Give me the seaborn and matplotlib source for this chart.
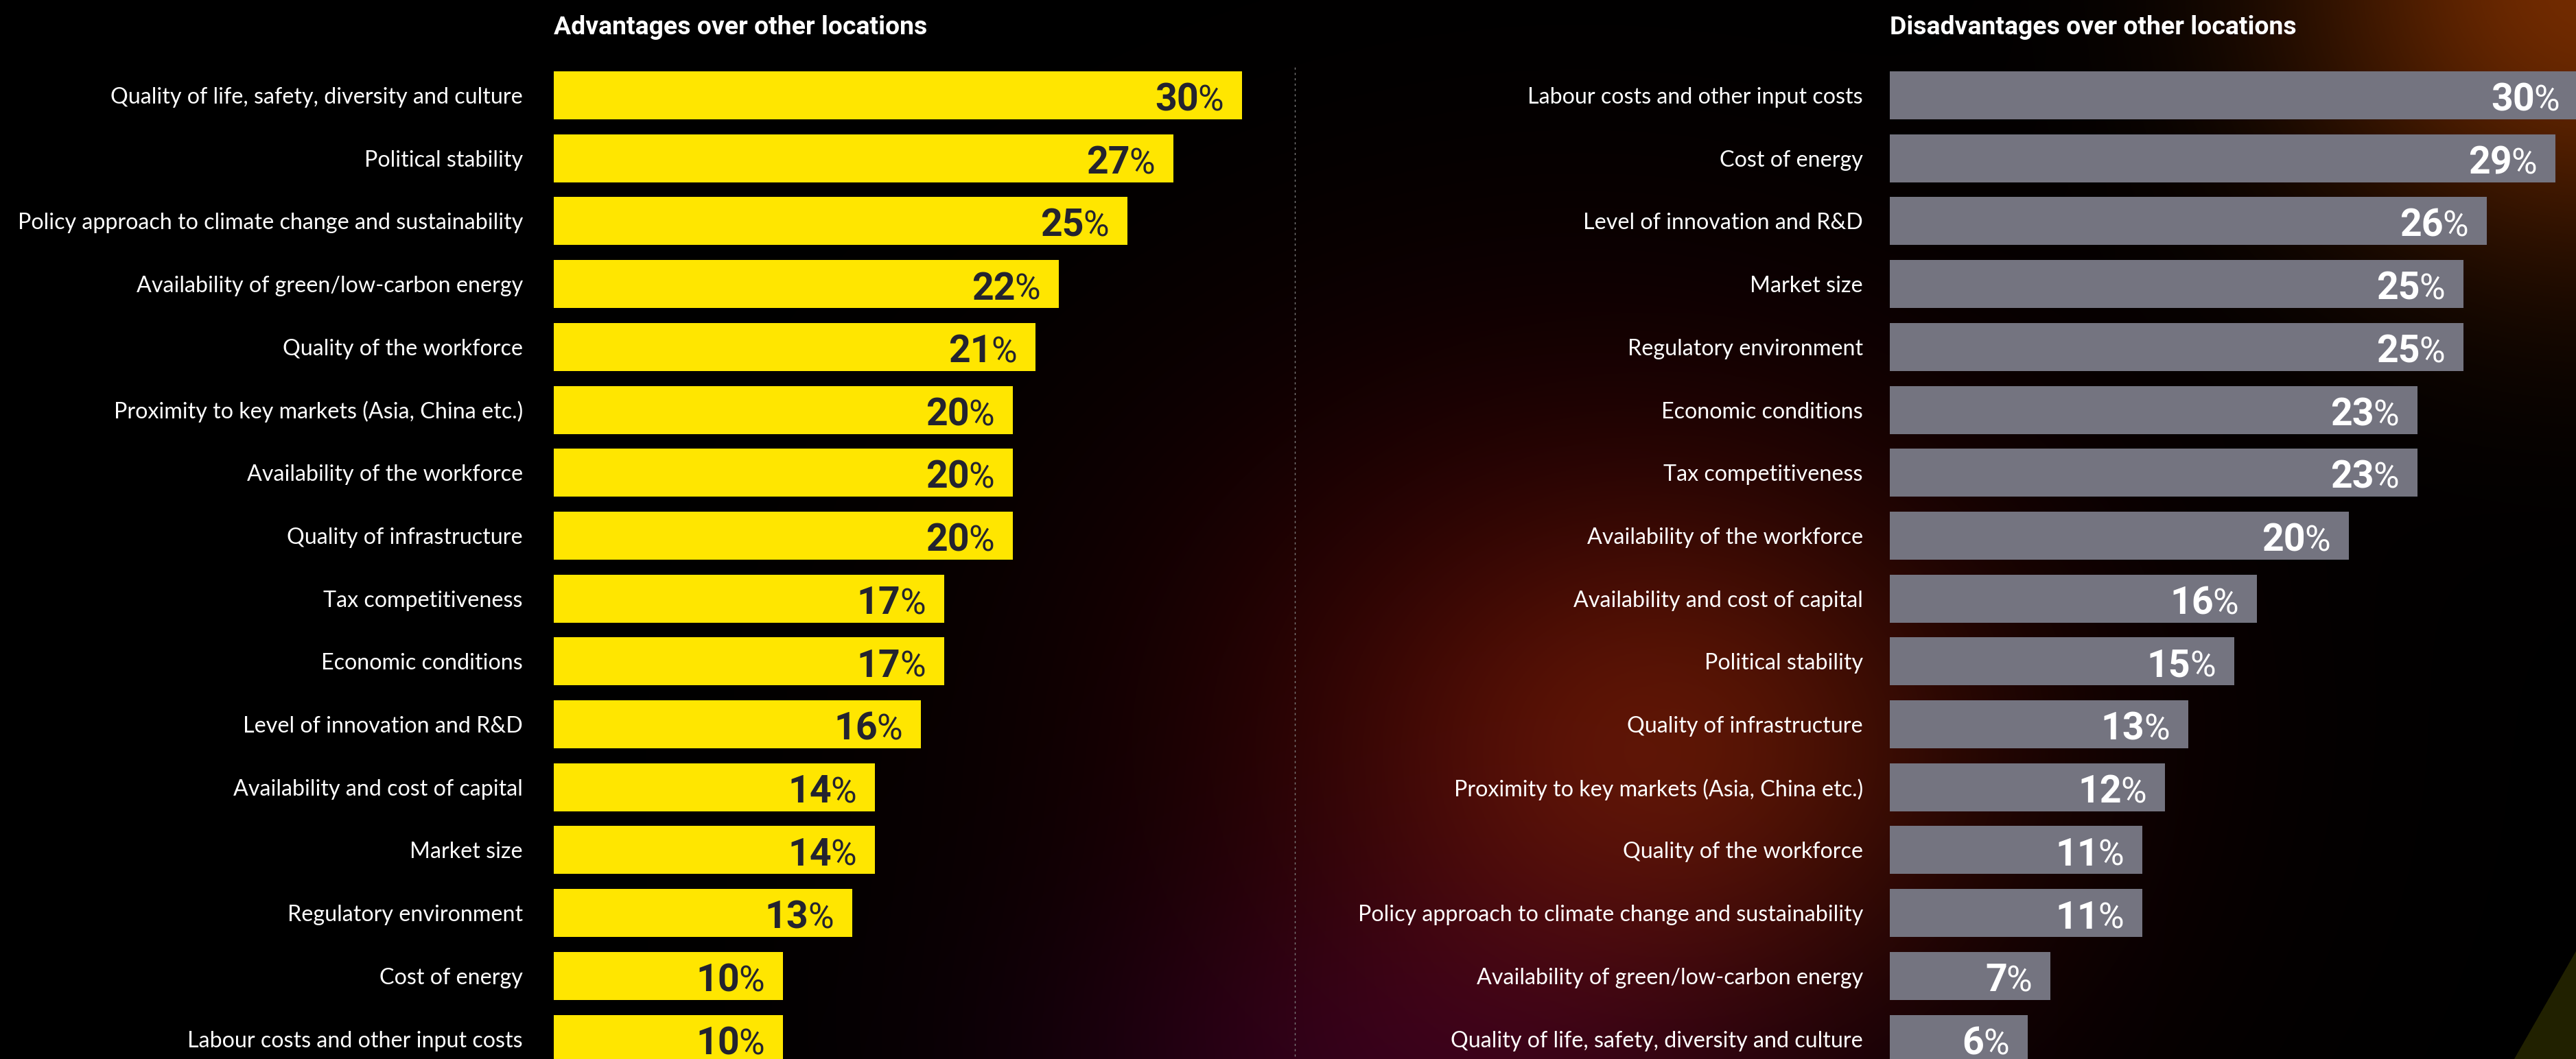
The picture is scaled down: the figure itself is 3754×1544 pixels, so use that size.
import numpy as np
import pandas as pd
import seaborn as sns
import matplotlib
matplotlib.use("Agg")
import matplotlib.pyplot as plt
from matplotlib.patches import Polygon

# ---------------- data ----------------
adv_labels = [
    "Quality of life, safety, diversity and culture",
    "Political stability",
    "Policy approach to climate change and sustainability",
    "Availability of green/low-carbon energy",
    "Quality of the workforce",
    "Proximity to key markets (Asia, China etc.)",
    "Availability of the workforce",
    "Quality of infrastructure",
    "Tax competitiveness",
    "Economic conditions",
    "Level of innovation and R&D",
    "Availability and cost of capital",
    "Market size",
    "Regulatory environment",
    "Cost of energy",
    "Labour costs and other input costs",
]
adv_values = [30, 27, 25, 22, 21, 20, 20, 20, 17, 17, 16, 14, 14, 13, 10, 10]

dis_labels = [
    "Labour costs and other input costs",
    "Cost of energy",
    "Level of innovation and R&D",
    "Market size",
    "Regulatory environment",
    "Economic conditions",
    "Tax competitiveness",
    "Availability of the workforce",
    "Availability and cost of capital",
    "Political stability",
    "Quality of infrastructure",
    "Proximity to key markets (Asia, China etc.)",
    "Quality of the workforce",
    "Policy approach to climate change and sustainability",
    "Availability of green/low-carbon energy",
    "Quality of life, safety, diversity and culture",
]
dis_values = [30, 29, 26, 25, 25, 23, 23, 20, 16, 15, 13, 12, 11, 11, 7, 6]

adv_title = "Advantages over other locations"
dis_title = "Disadvantages over other locations"

YELLOW = "#FFE600"
GREY = "#747480"
DARK = "#23232F"

# ---------------- layout ----------------
W, H, DPI = 3755, 1544, 100
K = 33.45          # px per percentage point
ROW = 91.7         # px per row
FIRST_C = 139.0    # px centre of first bar (from top)
BAR_H = 70.0

sns.set_theme(style="white")
plt.rcParams["font.family"] = ["Lato", "DejaVu Sans"]

fig = plt.figure(figsize=(W / DPI, H / DPI), dpi=DPI, facecolor="black")

# ---------------- background ----------------
bg = fig.add_axes([0, 0, 1, 1], zorder=-5)
ds = 4
yy, xx = np.mgrid[0:H:ds, 0:W:ds].astype(float)
img = np.zeros(yy.shape + (3,))


def blob(cx, cy, sx, sy, col):
    g = np.exp(-0.5 * (((xx - cx) / sx) ** 2 + ((yy - cy) / sy) ** 2))
    img[:] += g[..., None] * np.array(col)[None, None, :]


blob(2300, 1060, 480, 400, (0.21, 0.005, 0.02))
blob(2440, 1090, 290, 240, (0.16, 0.08, 0.0))
blob(2050, 1600, 380, 220, (0.13, 0.0, 0.10))
blob(3780, -30, 300, 280, (0.45, 0.17, 0.0))
img = np.clip(img, 0, 1)
bg.imshow(img, extent=[0, W, H, 0], aspect="auto", interpolation="bilinear")
bg.add_patch(Polygon([[3755, 1385], [3664, 1544], [3755, 1544]],
                     closed=True, facecolor=(0.13, 0.13, 0.0), edgecolor="none"))
bg.plot([1887, 1887], [98, H], color="#7a7a7a", lw=1.0,
        linestyle=(0, (2.2, 3.4)))
bg.set_xlim(0, W)
bg.set_ylim(H, 0)
bg.axis("off")

ax_top = FIRST_C - ROW / 2
ax_h = H - ax_top


def panel(x0, width, labels, values, color, pad_px):
    ax = fig.add_axes([x0 / W, 0, width / W, ax_h / H])
    df = pd.DataFrame({"label": labels, "value": values})
    sns.barplot(data=df, x="value", y="label", orient="h", color=color,
                saturation=1, width=BAR_H / ROW, ax=ax, linewidth=0,
                edgecolor="none")
    ax.set_xlim(0, width / K)
    ax.set_ylim(-0.5 + ax_h / ROW, -0.5)
    ax.set_xlabel("")
    ax.set_ylabel("")
    ax.set_xticks([])
    ax.patch.set_alpha(0)
    for s in ax.spines.values():
        s.set_visible(False)
    ax.tick_params(axis="y", length=0, pad=pad_px * 72 / DPI, colors="white")
    return ax


axL = panel(807, 1100, adv_labels, adv_values, YELLOW, 45)
axR = panel(2754, W - 2754, dis_labels, dis_values, GREY, 39)

fig.canvas.draw()
rend = fig.canvas.get_renderer()


def fit_size(s, target_px, **kw):
    t = fig.text(0, 0, s, fontsize=100, **kw)
    w = t.get_window_extent(rend).width
    t.remove()
    return 100 * target_px / w


lab_kw = dict(family=["Lato", "DejaVu Sans"], weight="normal")
lab_size = fit_size("Policy approach to climate change and sustainability", 735, **lab_kw)
for ax in (axL, axR):
    for t in ax.get_yticklabels():
        t.set_fontsize(lab_size)
        t.set_family(lab_kw["family"])
        t.set_fontweight("normal")
        t.set_color("white")

# titles
tit_kw = dict(family=["Roboto", "DejaVu Sans"], weight="bold", color="white")
fig.text(807 / W, 1 - 50 / H, adv_title, ha="left", va="baseline",
         fontsize=fit_size(adv_title, 544, **tit_kw), **tit_kw)
fig.text(2754 / W, 1 - 50 / H, dis_title, ha="left", va="baseline",
         fontsize=fit_size(dis_title, 592, **tit_kw), **tit_kw)

# value labels
PAD_PT = 27 * 72 / DPI
BASE_PT = -22.5 * 72 / DPI
NUM_FS = 40
PCT_FS = 37


def values_on(ax, values, col):
    pcts = []
    for i, v in enumerate(values):
        p = ax.annotate("%", xy=(v, i), xytext=(-PAD_PT, BASE_PT),
                        textcoords="offset points", ha="right", va="baseline",
                        fontsize=PCT_FS, family=["Roboto", "DejaVu Sans"],
                        weight="normal", color=col, annotation_clip=False)
        pcts.append(p)
    fig.canvas.draw()
    for i, (v, p) in enumerate(zip(values, pcts)):
        wpt = p.get_window_extent(rend).width * 72 / DPI
        ax.annotate(f"{v}", xy=(v, i), xytext=(-PAD_PT - wpt + 1, BASE_PT),
                    textcoords="offset points", ha="right", va="baseline",
                    fontsize=NUM_FS, family=["Roboto", "DejaVu Sans"],
                    weight="bold", color=col, annotation_clip=False)


values_on(axL, adv_values, DARK)
values_on(axR, dis_values, "white")

fig.savefig("out.png", dpi=DPI, facecolor="black")
